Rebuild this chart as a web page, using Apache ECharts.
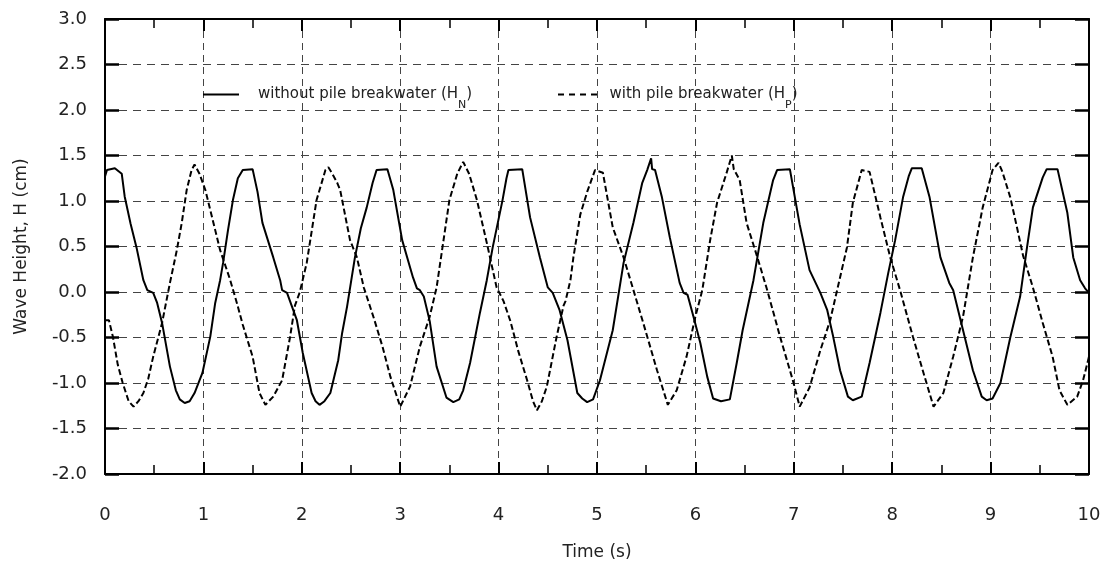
<!DOCTYPE html>
<html>
<head>
<meta charset="utf-8">
<title>Wave Height</title>
<script src="https://cdn.jsdelivr.net/npm/echarts@6/dist/echarts.min.js"></script>
<style>
  html, body { margin: 0; padding: 0; background: #fff; }
  #waveChart { width: 1104px; height: 567px; }
</style>
</head>
<body>
<div id="waveChart"></div>
<script>
/**********************************************/
/* 数据部分 */
/**********************************************/
// 无桩式防波堤 (H_N) —— 实线
var timeN = [
  0.00, 0.02, 0.10, 0.17, 0.20, 0.26, 0.32, 0.39, 0.43, 0.49, 0.53, 0.58, 0.66, 0.72, 0.76, 0.81, 0.86, 0.91, 0.99,
  1.07, 1.12, 1.17, 1.20, 1.25, 1.30, 1.35, 1.40, 1.50, 1.55, 1.60, 1.71, 1.78, 1.80, 1.85, 1.95,
  2.01, 2.10, 2.14, 2.18, 2.23, 2.29, 2.37, 2.41, 2.46, 2.54, 2.60, 2.66, 2.72, 2.76, 2.87, 2.93,
  3.02, 3.13, 3.17, 3.20, 3.24, 3.30, 3.37, 3.47, 3.54, 3.60, 3.64, 3.71, 3.81, 3.88, 3.94,
  4.04, 4.08, 4.10, 4.24, 4.32, 4.42, 4.50, 4.55, 4.62, 4.70, 4.80, 4.85, 4.90, 4.96,
  5.03, 5.16, 5.27, 5.37, 5.46, 5.51, 5.55, 5.56, 5.59, 5.66, 5.74, 5.84, 5.88, 5.92, 5.98,
  6.05, 6.12, 6.18, 6.26, 6.35, 6.42, 6.48, 6.59, 6.69, 6.79, 6.83, 6.96,
  7.06, 7.16, 7.27, 7.34, 7.40, 7.47, 7.55, 7.60, 7.69, 7.77, 7.88, 7.96,
  8.03, 8.11, 8.17, 8.20, 8.30, 8.38, 8.49, 8.58, 8.62, 8.72, 8.82, 8.91, 8.96,
  9.02, 9.10, 9.20, 9.30, 9.37, 9.43, 9.53, 9.57, 9.68, 9.78, 9.84, 9.91, 9.96, 10.00
];
var heightN = [
  1.27, 1.34, 1.36, 1.30, 1.05, 0.75, 0.49, 0.13, 0.02, -0.01, -0.12, -0.34, -0.82, -1.08, -1.18, -1.22, -1.20, -1.11, -0.89,
  -0.49, -0.12, 0.13, 0.32, 0.68, 1.01, 1.25, 1.34, 1.35, 1.10, 0.76, 0.38, 0.13, 0.02, -0.01, -0.31,
  -0.67, -1.11, -1.20, -1.24, -1.20, -1.11, -0.75, -0.45, -0.16, 0.38, 0.70, 0.93, 1.20, 1.34, 1.35, 1.12,
  0.57, 0.16, 0.04, 0.02, -0.05, -0.32, -0.82, -1.16, -1.21, -1.18, -1.08, -0.78, -0.23, 0.13, 0.49,
  1.01, 1.25, 1.34, 1.35, 0.82, 0.38, 0.05, -0.01, -0.20, -0.53, -1.11, -1.17, -1.21, -1.18,
  -0.97, -0.42, 0.32, 0.76, 1.20, 1.34, 1.47, 1.35, 1.34, 1.04, 0.60, 0.10, -0.01, -0.03, -0.27,
  -0.56, -0.93, -1.17, -1.20, -1.18, -0.78, -0.42, 0.13, 0.76, 1.23, 1.34, 1.35,
  0.74, 0.24, -0.01, -0.20, -0.49, -0.86, -1.15, -1.19, -1.15, -0.78, -0.23, 0.21,
  0.57, 1.04, 1.28, 1.36, 1.36, 1.04, 0.38, 0.10, 0.02, -0.42, -0.86, -1.15, -1.19,
  -1.17, -1.00, -0.50, -0.05, 0.49, 0.93, 1.26, 1.35, 1.35, 0.87, 0.38, 0.13, 0.04, -0.01
];

// 有桩式防波堤 (H_P) —— 虚线
var timeP = [
  0.00, 0.04, 0.06, 0.08, 0.13, 0.18, 0.24, 0.29, 0.34, 0.39, 0.44, 0.49, 0.58, 0.66, 0.73, 0.78, 0.83, 0.88, 0.91, 0.96,
  1.02, 1.12, 1.17, 1.27, 1.34, 1.40, 1.50, 1.57, 1.63, 1.71, 1.80, 1.88, 1.93, 1.98,
  2.05, 2.15, 2.24, 2.27, 2.31, 2.36, 2.39, 2.49, 2.56, 2.63, 2.73, 2.82, 2.90,
  3.00, 3.10, 3.20, 3.30, 3.37, 3.50, 3.58, 3.64, 3.70, 3.78, 3.88, 3.98,
  4.05, 4.12, 4.20, 4.29, 4.35, 4.39, 4.44, 4.49, 4.59, 4.66, 4.68, 4.73, 4.76, 4.83, 4.90, 4.98,
  5.06, 5.16, 5.27, 5.34, 5.47, 5.61, 5.72, 5.81, 5.91,
  6.00, 6.07, 6.15, 6.22, 6.32, 6.37, 6.39, 6.45, 6.52, 6.63, 6.73, 6.86, 6.99,
  7.06, 7.16, 7.27, 7.37, 7.47, 7.54, 7.60, 7.69, 7.77, 7.88, 7.98,
  8.08, 8.21, 8.31, 8.42, 8.52, 8.62, 8.72, 8.82, 8.92,
  9.02, 9.08, 9.12, 9.20, 9.27, 9.33, 9.43, 9.53, 9.63, 9.70, 9.78, 9.88, 9.94, 10.00
];
var heightP = [
  -0.31, -0.31, -0.40, -0.49, -0.80, -1.00, -1.20, -1.26, -1.20, -1.11, -0.95, -0.71, -0.34, 0.10, 0.46, 0.76, 1.12, 1.34, 1.40, 1.30,
  1.12, 0.68, 0.46, 0.14, -0.12, -0.36, -0.71, -1.11, -1.24, -1.15, -0.97, -0.50, -0.15, 0.00,
  0.32, 1.01, 1.34, 1.37, 1.30, 1.20, 1.12, 0.57, 0.38, 0.05, -0.28, -0.60, -0.93,
  -1.26, -1.04, -0.60, -0.27, 0.05, 1.01, 1.30, 1.43, 1.30, 1.01, 0.54, 0.05,
  -0.10, -0.32, -0.65, -0.97, -1.20, -1.30, -1.20, -1.04, -0.49, -0.15, -0.10, 0.13, 0.38, 0.85, 1.10, 1.34,
  1.31, 0.71, 0.38, 0.13, -0.34, -0.86, -1.24, -1.08, -0.71,
  -0.27, 0.02, 0.57, 0.98, 1.32, 1.50, 1.35, 1.23, 0.76, 0.38, 0.02, -0.49, -0.97,
  -1.26, -1.05, -0.64, -0.31, 0.16, 0.49, 0.98, 1.34, 1.32, 0.82, 0.38,
  0.02, -0.49, -0.86, -1.26, -1.11, -0.71, -0.27, 0.38, 0.93,
  1.34, 1.42, 1.32, 1.04, 0.70, 0.40, 0.05, -0.34, -0.71, -1.08, -1.24, -1.15, -0.97, -0.71
];

// 坐标轴刻度
var xTicks = [0, 1, 2, 3, 4, 5, 6, 7, 8, 9, 10];
var yTicks = [-2.0, -1.5, -1.0, -0.5, 0.0, 0.5, 1.0, 1.5, 2.0, 2.5, 3.0];

// 系列名称
var NAME_N = "without pile breakwater (HN)";
var NAME_P = "with pile breakwater (HP)";

var FONT = "DejaVu Sans";

// 图例图标：实线 / 虚线
var ICON_SOLID = "path://M0,0h40v2h-40z";
var ICON_DASH = "path://M0,0h6v2h-6z M11,0h6v2h-6z M22,0h6v2h-6z M33,0h6v2h-6z";

/**********************************************/
/* 功能函数 */
/**********************************************/
// 把时间和波高两个数组拼成 [x, y]
function pairUp(xs, ys) {
  var arr = [];
  for (var i = 0; i < xs.length; i++) {
    arr.push([xs[i], ys[i]]);
  }
  return arr;
}

// 图例文字（带下标）
function legendText(name) {
  if (name === NAME_N) return "{a|without pile breakwater (H}{s|N}{a|)}";
  return "{a|with pile breakwater (H}{s|P}{a|)}";
}

var legendRich = {
  a: { fontFamily: FONT, fontSize: 15, color: "#222", lineHeight: 32 },
  s: { fontFamily: FONT, fontSize: 11, color: "#222", lineHeight: 11, verticalAlign: "bottom" }
};

// 坐标轴公共样式
function makeXAxis(isTop) {
  return {
    type: "value",
    position: isTop ? "top" : "bottom",
    min: xTicks[0],
    max: xTicks[xTicks.length - 1],
    interval: 1,
    name: isTop ? "" : "Time (s)",
    nameLocation: "middle",
    nameGap: 70,
    nameTextStyle: { fontFamily: FONT, fontSize: 17, color: "#222" },
    axisLine: { show: true, onZero: false, lineStyle: { color: "#000", width: 2 } },
    axisTick: { show: true, inside: true, length: 12, lineStyle: { color: "#000", width: 2 } },
    minorTick: { show: true, splitNumber: 2, length: 9, lineStyle: { color: "#000", width: 1.5 } },
    axisLabel: {
      show: !isTop,
      margin: 32,
      fontFamily: FONT,
      fontSize: 18,
      color: "#222"
    },
    splitLine: isTop ? { show: false } : {
      show: true,
      lineStyle: { color: "#444", width: 1, type: [7, 5] }
    }
  };
}

function makeYAxis(isRight) {
  return {
    type: "value",
    position: isRight ? "right" : "left",
    min: yTicks[0],
    max: yTicks[yTicks.length - 1],
    interval: 0.5,
    name: isRight ? "" : "Wave Height, H (cm)",
    nameLocation: "middle",
    nameGap: 75,
    nameTextStyle: { fontFamily: FONT, fontSize: 17, color: "#222" },
    axisLine: { show: true, onZero: false, lineStyle: { color: "#000", width: 2 } },
    axisTick: { show: true, inside: true, length: 14, lineStyle: { color: "#000", width: 2.5 } },
    axisLabel: {
      show: !isRight,
      margin: 18,
      fontFamily: FONT,
      fontSize: 18,
      color: "#222",
      formatter: function (v) { return v.toFixed(1); }
    },
    splitLine: isRight ? { show: false } : {
      show: true,
      lineStyle: { color: "#444", width: 1, type: [8, 6] }
    }
  };
}

/**********************************************/
/* 生成图表 */
/**********************************************/
var waveChart = echarts.init(document.getElementById("waveChart"), null, { renderer: "canvas" });

waveChart.setOption({
  animation: false,
  backgroundColor: "#fff",
  grid: { left: 105, right: 15, top: 19, bottom: 93, containLabel: false },
  legend: [
    {
      data: [{ name: NAME_N, icon: ICON_SOLID }],
      left: 198,
      top: 82,
      itemWidth: 36,
      itemHeight: 2,
      formatter: legendText,
      textStyle: { padding: [0, 0, 0, 14], rich: legendRich }
    },
    {
      data: [{ name: NAME_P, icon: ICON_DASH }],
      left: 553,
      top: 82,
      itemWidth: 40,
      itemHeight: 2,
      formatter: legendText,
      textStyle: { padding: [0, 0, 0, 7], rich: legendRich }
    }
  ],
  xAxis: [makeXAxis(false), makeXAxis(true)],
  yAxis: [makeYAxis(false), makeYAxis(true)],
  series: [
    {
      name: NAME_N,
      type: "line",
      xAxisIndex: 0,
      yAxisIndex: 0,
      symbol: "none",
      showSymbol: false,
      lineStyle: { color: "#000", width: 2, type: "solid" },
      itemStyle: { color: "#000" },
      data: pairUp(timeN, heightN)
    },
    {
      name: NAME_P,
      type: "line",
      xAxisIndex: 0,
      yAxisIndex: 0,
      symbol: "none",
      showSymbol: false,
      lineStyle: { color: "#000", width: 2, type: [6, 3] },
      itemStyle: { color: "#000" },
      data: pairUp(timeP, heightP)
    }
  ]
});
</script>
</body>
</html>
